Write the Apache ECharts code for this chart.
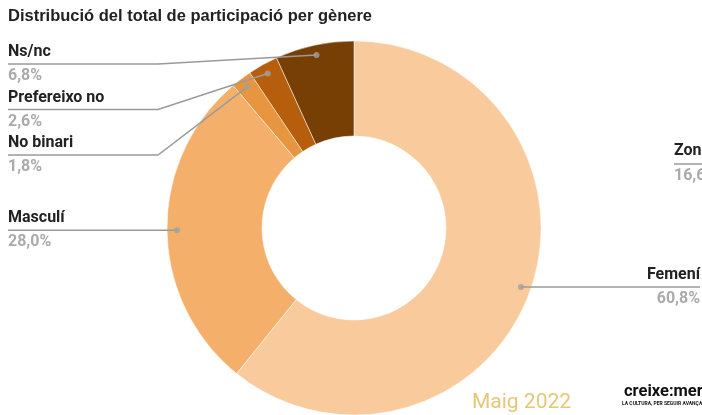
<!DOCTYPE html>
<html>
<head>
<meta charset="utf-8">
<style>
  html, body { margin: 0; padding: 0; background: #fff; }
  #chart { width: 702px; height: 415px; }
</style>
<script src="https://cdn.jsdelivr.net/npm/echarts@6/dist/echarts.min.js"></script>
</head>
<body>
<div id="chart"></div>
<script>
var categories = ['Femení', 'Masculí', 'No binari', 'Prefereixo no', 'Ns/nc'];
var values = [60.8, 28.0, 1.8, 2.6, 6.8];
var colors = ['#F8CA9C', '#F4B06A', '#E8953F', '#B65E0C', '#783F04'];

var CX = 354, CY = 228, R_OUT = 187, R_IN = 92, R_DOT = 177;
// small slices get their labels stacked down the left side
var STACK_TOP = 64, STACK_GAP = 45.5;

var myChart = echarts.init(document.getElementById('chart'));

function fmt(v) {
    return v.toFixed(1).replace('.', ',') + '%';
}

var total = values.reduce(function (a, b) { return a + b; }, 0);

var pieData = categories.map(function (name, i) {
    return { name: name, value: values[i], itemStyle: { color: colors[i] } };
});

// same slices, invisible, only to carry the labels and lines above the donut
var labelData = categories.map(function (name, i) {
    var item = { name: name, value: values[i] };
    if (i === 0) {
        item.label = { edgeDistance: 2 };
    }
    return item;
});

// dots where label lines start
var dotData = [];
var acc = 0;
values.forEach(function (v) {
    dotData.push([R_DOT, (acc + v / 2) / total * 100]);
    acc += v;
});

var option = {
    animation: false,
    title: {
        text: 'Distribució del total de participació per gènere',
        left: 8,
        top: 8,
        padding: 0,
        textStyle: {
            fontFamily: 'Liberation Sans',
            fontSize: 16.5,
            fontWeight: 'bold',
            color: '#222'
        }
    },
    polar: {
        center: [CX, CY],
        radius: R_OUT
    },
    angleAxis: {
        type: 'value', min: 0, max: 100, startAngle: 90, clockwise: true, show: false
    },
    radiusAxis: {
        type: 'value', min: 0, max: R_OUT, show: false
    },
    series: [
        {
            type: 'pie',
            left: 0, top: 0, right: 0, bottom: 0,
            center: [CX, CY],
            radius: [R_IN, R_OUT],
            startAngle: 90,
            clockwise: true,
            silent: true,
            itemStyle: { borderColor: '#fff', borderWidth: 0.5 },
            label: { show: false },
            labelLine: { show: false },
            data: pieData,
            z: 2
        },
        {
            type: 'pie',
            left: 0, top: 0, right: 0, bottom: 0,
            center: [CX, CY],
            radius: [R_IN, R_OUT],
            startAngle: 90,
            clockwise: true,
            silent: true,
            itemStyle: { color: 'rgba(0,0,0,0)', borderWidth: 0 },
            label: {
                show: true,
                position: 'outside',
                alignTo: 'edge',
                edgeDistance: 8,
                minMargin: 10,
                formatter: function (p) {
                    return '{name|' + p.name + '}\n{value|' + fmt(p.value) + '}';
                },
                rich: {
                    name: { fontFamily: 'Roboto', fontSize: 16, fontWeight: 'bold', color: '#222', lineHeight: 24 },
                    value: { fontFamily: 'Roboto', fontSize: 16, fontWeight: 'bold', color: '#aaa', lineHeight: 24 }
                }
            },
            labelLine: {
                show: true,
                length: 10,
                length2: 10,
                lineStyle: { color: '#9a9a9a', width: 1.5 }
            },
            labelLayout: function (params) {
                var isLeft = params.labelRect.x < myChart.getWidth() / 2;
                var pts = params.labelLinePoints;
                if (!pts) return {};
                var dx = pts[0][0] - CX, dy = pts[0][1] - CY;
                var d = Math.sqrt(dx * dx + dy * dy);
                var p0 = [CX + dx / d * R_DOT, CY + dy / d * R_DOT];
                var idx = params.dataIndex;
                var midY = values[idx] < 10
                    ? STACK_TOP + (values.length - 1 - idx) * STACK_GAP
                    : p0[1];
                var bendX = isLeft ? CX - 196 : CX + 196;
                var endX = isLeft ? params.labelRect.x : params.labelRect.x + params.labelRect.width;
                return {
                    y: midY,
                    verticalAlign: 'middle',
                    labelLinePoints: [p0, [bendX, midY], [endX, midY]]
                };
            },
            data: labelData,
            z: 5
        },
        {
            type: 'scatter',
            coordinateSystem: 'polar',
            symbol: 'circle',
            symbolSize: 6,
            silent: true,
            itemStyle: { color: '#a0a0a0' },
            data: dotData,
            z: 10
        }
    ],
    graphic: [
        {
            type: 'text', left: 674, top: 143,
            style: { text: 'Zona', fontFamily: 'Roboto', fontSize: 16, fontWeight: 'bold', fill: '#222' }
        },
        {
            type: 'line', shape: { x1: 674, y1: 164, x2: 702, y2: 164 },
            style: { stroke: '#9a9a9a', lineWidth: 1.5 }
        },
        {
            type: 'text', left: 674, top: 168,
            style: { text: '16,6%', fontFamily: 'Roboto', fontSize: 16, fontWeight: 'bold', fill: '#aaa' }
        },
        {
            type: 'text', left: 472, top: 392,
            style: { text: 'Maig 2022', fontFamily: 'Roboto', fontSize: 21, fill: '#E5C77A' }
        },
        {
            type: 'text', left: 624, top: 383,
            style: { text: 'creixe:mer', fontFamily: 'Roboto', fontSize: 16.5, fontWeight: 'bold', fill: '#111' }
        },
        {
            type: 'text', left: 622, top: 401,
            style: { text: 'LA CULTURA, PER SEGUIR AVANÇANT', fontFamily: 'Roboto', fontSize: 5, fontWeight: 'bold', fill: '#111' }
        }
    ]
};

myChart.setOption(option);
</script>
</body>
</html>
